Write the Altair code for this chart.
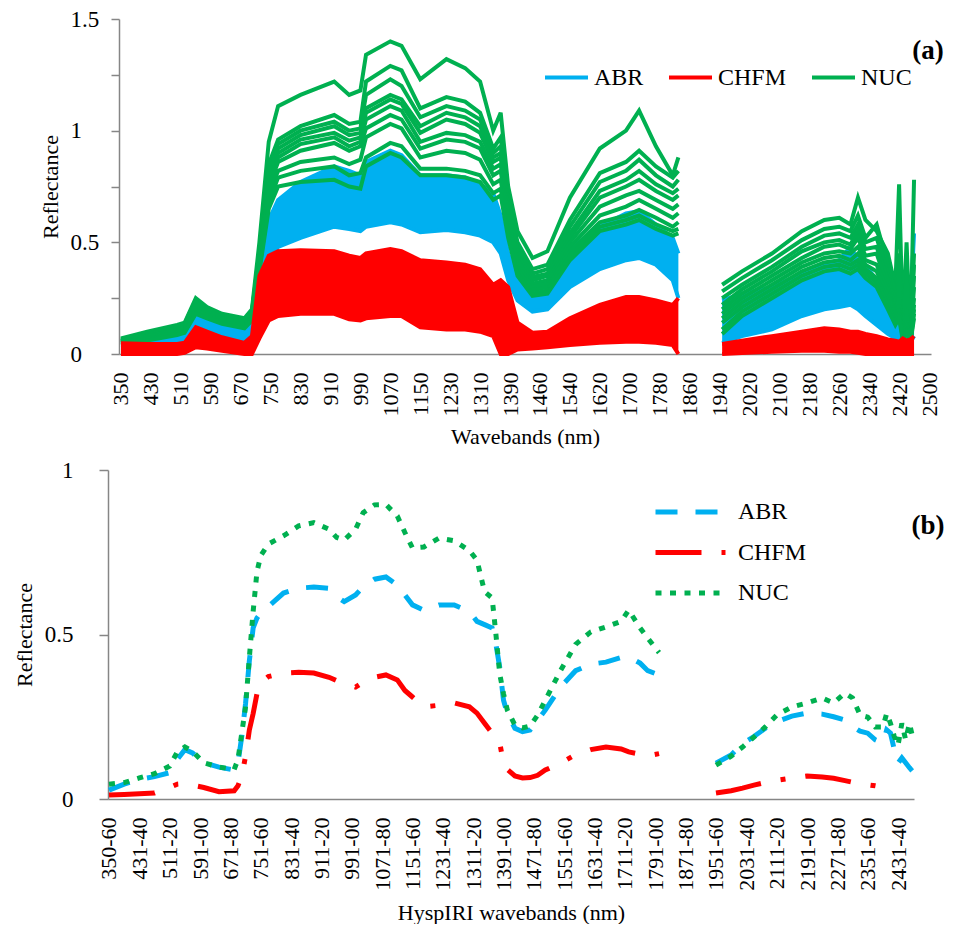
import altair as alt
import pandas as pd

FONT = "Liberation Serif, Times New Roman, Times, serif"
CLASSES = ["ABR", "CHFM", "NUC"]
COLORS = ["#00B0F0", "#FF0000", "#00B050"]
PANEL_LABELS = ["(a)", "(b)"]

# ---------------- Panel (a): individual spectra ----------------
A_LABELS = ["350", "430", "510", "590", "670", "750", "830", "910", "990", "1070",
            "1150", "1230", "1310", "1390", "1460", "1540", "1620", "1700", "1780",
            "1860", "1940", "2020", "2100", "2180", "2260", "2340", "2420", "2500"]

WL_A1 = [350, 420, 500, 520, 550, 580, 620, 680, 700, 720, 745, 770, 830, 920, 960, 990,
         1005, 1070, 1100, 1150, 1220, 1270, 1310, 1345, 1365, 1385, 1400, 1440, 1480,
         1540, 1620, 1690, 1725, 1770, 1815, 1830]
WL_A2 = [1947, 2000, 2080, 2160, 2220, 2260, 2290, 2310, 2330, 2360, 2390, 2410, 2420,
         2430, 2440, 2450, 2460]

# NUC spectra (green)
G1_1 = [0.07, 0.10, 0.13, 0.14, 0.25, 0.21, 0.18, 0.16, 0.20, 0.50,
        0.95, 1.11, 1.16, 1.22, 1.16, 1.18, 1.34, 1.40, 1.38, 1.23, 1.32, 1.28, 1.22, 1.00,
        1.08, 0.75, 0.55, 0.43, 0.46, 0.70, 0.92, 1.00, 1.09, 0.93, 0.80, 0.88]
G2_1 = [0.065, 0.095, 0.125, 0.135, 0.24, 0.20, 0.175, 0.155, 0.19, 0.46,
        0.85, 0.96, 1.02, 1.07, 1.03, 1.04, 1.22, 1.29, 1.27, 1.10, 1.15, 1.13, 1.08, 0.92,
        0.97, 0.70, 0.50, 0.38, 0.40, 0.60, 0.81, 0.86, 0.91, 0.84, 0.79, 0.82]
G3_1 = [0.06, 0.09, 0.12, 0.13, 0.235, 0.195, 0.17, 0.15, 0.185, 0.45,
        0.83, 0.94, 1.00, 1.04, 1.00, 1.01, 1.16, 1.23, 1.20, 1.06, 1.11, 1.09, 1.05, 0.90,
        0.93, 0.68, 0.48, 0.36, 0.38, 0.57, 0.77, 0.82, 0.87, 0.80, 0.75, 0.78]
G4_1 = [0.06, 0.085, 0.115, 0.125, 0.23, 0.19, 0.165, 0.145, 0.18, 0.44,
        0.81, 0.92, 0.98, 1.02, 0.98, 0.99, 1.10, 1.16, 1.14, 1.02, 1.08, 1.06, 1.02, 0.88,
        0.90, 0.66, 0.46, 0.345, 0.36, 0.54, 0.73, 0.78, 0.82, 0.76, 0.72, 0.74]
G5_1 = [0.055, 0.08, 0.11, 0.12, 0.22, 0.185, 0.16, 0.14, 0.175, 0.43,
        0.79, 0.90, 0.96, 0.99, 0.955, 0.97, 1.08, 1.14, 1.12, 0.99, 1.05, 1.03, 0.99, 0.86,
        0.88, 0.64, 0.44, 0.33, 0.35, 0.52, 0.70, 0.75, 0.78, 0.73, 0.69, 0.71]
G6_1 = [0.055, 0.08, 0.105, 0.115, 0.21, 0.18, 0.155, 0.135, 0.17, 0.42,
        0.77, 0.88, 0.94, 0.97, 0.93, 0.95, 1.05, 1.11, 1.09, 0.95, 0.99, 0.98, 0.95, 0.83,
        0.85, 0.62, 0.42, 0.315, 0.33, 0.50, 0.66, 0.71, 0.73, 0.69, 0.65, 0.67]
G7_1 = [0.05, 0.075, 0.10, 0.11, 0.20, 0.175, 0.15, 0.13, 0.165, 0.41,
        0.75, 0.86, 0.91, 0.945, 0.91, 0.93, 1.01, 1.07, 1.05, 0.92, 0.96, 0.95, 0.92, 0.80,
        0.82, 0.60, 0.40, 0.30, 0.315, 0.48, 0.62, 0.66, 0.69, 0.65, 0.61, 0.63]
G8_1 = [0.05, 0.07, 0.095, 0.105, 0.195, 0.17, 0.145, 0.125, 0.16, 0.40,
        0.72, 0.82, 0.86, 0.88, 0.85, 0.87, 0.97, 1.03, 1.01, 0.88, 0.91, 0.90, 0.87, 0.76,
        0.78, 0.57, 0.38, 0.285, 0.30, 0.46, 0.59, 0.62, 0.645, 0.61, 0.57, 0.59]
G9_1 = [0.045, 0.065, 0.09, 0.10, 0.185, 0.165, 0.14, 0.12, 0.155, 0.38,
        0.68, 0.79, 0.82, 0.84, 0.80, 0.81, 0.88, 0.945, 0.93, 0.83, 0.83, 0.82, 0.80, 0.72,
        0.74, 0.54, 0.36, 0.27, 0.285, 0.44, 0.57, 0.60, 0.62, 0.58, 0.55, 0.56]
G10_1 = [0.04, 0.06, 0.085, 0.095, 0.18, 0.16, 0.135, 0.115, 0.15, 0.37,
         0.65, 0.75, 0.77, 0.78, 0.75, 0.74, 0.84, 0.90, 0.88, 0.80, 0.80, 0.79, 0.77, 0.69,
         0.71, 0.52, 0.35, 0.26, 0.27, 0.42, 0.55, 0.58, 0.60, 0.56, 0.53, 0.54]

G1_2 = [0.31, 0.37, 0.45, 0.55, 0.60, 0.61, 0.58, 0.70, 0.60, 0.55, 0.45, 0.30, 0.76, 0.12, 0.50, 0.06, 0.78]
G2_2 = [0.28, 0.34, 0.42, 0.51, 0.56, 0.57, 0.55, 0.62, 0.52, 0.58, 0.40, 0.26, 0.45, 0.20, 0.30, 0.10, 0.45]
G3_2 = [0.25, 0.31, 0.39, 0.48, 0.53, 0.54, 0.52, 0.58, 0.50, 0.52, 0.36, 0.22, 0.38, 0.15, 0.25, 0.08, 0.40]
G4_2 = [0.22, 0.29, 0.37, 0.46, 0.50, 0.51, 0.49, 0.55, 0.47, 0.48, 0.33, 0.20, 0.32, 0.12, 0.35, 0.07, 0.35]
G5_2 = [0.20, 0.27, 0.35, 0.43, 0.48, 0.49, 0.47, 0.52, 0.44, 0.45, 0.30, 0.18, 0.28, 0.10, 0.20, 0.06, 0.30]
G6_2 = [0.18, 0.25, 0.33, 0.41, 0.45, 0.46, 0.45, 0.48, 0.42, 0.40, 0.28, 0.17, 0.25, 0.09, 0.18, 0.06, 0.25]
G7_2 = [0.16, 0.23, 0.31, 0.39, 0.43, 0.44, 0.42, 0.45, 0.40, 0.37, 0.26, 0.16, 0.22, 0.08, 0.15, 0.05, 0.22]
G8_2 = [0.14, 0.21, 0.29, 0.37, 0.41, 0.42, 0.40, 0.42, 0.38, 0.34, 0.24, 0.15, 0.20, 0.07, 0.14, 0.05, 0.20]
G9_2 = [0.11, 0.19, 0.27, 0.35, 0.39, 0.40, 0.38, 0.40, 0.36, 0.32, 0.22, 0.14, 0.18, 0.07, 0.12, 0.05, 0.18]
G10_2 = [0.09, 0.17, 0.25, 0.33, 0.37, 0.38, 0.36, 0.38, 0.34, 0.30, 0.20, 0.13, 0.16, 0.06, 0.10, 0.05, 0.16]

GREEN_1 = [G1_1, G2_1, G3_1, G4_1, G5_1, G6_1, G7_1, G8_1, G9_1, G10_1]
GREEN_2 = [G1_2, G2_2, G3_2, G4_2, G5_2, G6_2, G7_2, G8_2, G9_2, G10_2]

# ABR spectra (blue): upper and lower envelope of the bundle
B_HI1 = [0.06, 0.08, 0.11, 0.12, 0.18, 0.15, 0.12, 0.11, 0.14, 0.38, 0.60, 0.69, 0.77, 0.84,
         0.82, 0.80, 0.86, 0.91, 0.89, 0.80, 0.80, 0.79, 0.76, 0.72, 0.62, 0.45, 0.33, 0.30,
         0.33, 0.47, 0.57, 0.63, 0.64, 0.58, 0.52, 0.45]
B_LO1 = [0.03, 0.035, 0.045, 0.05, 0.08, 0.07, 0.06, 0.05, 0.06, 0.22, 0.40, 0.48, 0.52, 0.57,
         0.56, 0.55, 0.57, 0.59, 0.58, 0.545, 0.555, 0.545, 0.53, 0.50, 0.45, 0.33, 0.24, 0.19,
         0.20, 0.30, 0.38, 0.42, 0.43, 0.40, 0.33, 0.25]
B_HI2 = [0.24, 0.27, 0.30, 0.36, 0.40, 0.42, 0.48, 0.42, 0.40, 0.33, 0.28, 0.25, 0.22, 0.20, 0.30, 0.20, 0.54]
B_LO2 = [0.05, 0.08, 0.11, 0.17, 0.20, 0.21, 0.22, 0.20, 0.17, 0.13, 0.09, 0.07, 0.06, 0.05, 0.06, 0.05, 0.08]

# CHFM spectra (red): upper and lower envelope of the bundle
R_HI1 = [0.048, 0.045, 0.045, 0.05, 0.12, 0.10, 0.075, 0.05, 0.08, 0.35, 0.44, 0.46, 0.465, 0.46,
         0.44, 0.43, 0.45, 0.47, 0.46, 0.42, 0.41, 0.40, 0.38, 0.31, 0.33, 0.30, 0.14, 0.095,
         0.10, 0.16, 0.22, 0.255, 0.255, 0.24, 0.22, 0.25]
R_LO1 = [0.0, 0.0, 0.0, 0.005, 0.03, 0.025, 0.015, 0.0, 0.0, 0.07, 0.15, 0.17, 0.18, 0.18,
         0.155, 0.15, 0.16, 0.17, 0.17, 0.12, 0.11, 0.11, 0.10, 0.08, 0.0, 0.0, 0.02, 0.025,
         0.03, 0.04, 0.05, 0.055, 0.055, 0.05, 0.04, 0.0]
R_HI2 = [0.045, 0.06, 0.08, 0.10, 0.115, 0.11, 0.10, 0.10, 0.09, 0.08, 0.065, 0.06, 0.055, 0.07, 0.06, 0.065, 0.08]
R_LO2 = [0.0, 0.005, 0.01, 0.015, 0.015, 0.01, 0.01, 0.005, 0.0, 0.0, 0.0, 0.0, 0.0, 0.0, 0.0, 0.0, 0.0]

# ---------------- Panel (b): HyspIRI band means ----------------
WL_B1 = [350, 390, 430, 470, 510, 530, 550, 570, 600, 640, 680, 690, 700, 710, 720, 730, 740,
         750, 770, 810, 850, 890, 930, 950, 970, 1000, 1020, 1050, 1080, 1110, 1130, 1150,
         1180, 1220, 1260, 1300, 1320, 1340, 1360, 1370, 1380, 1390, 1400, 1420, 1440, 1460,
         1480, 1500, 1540, 1580, 1620, 1660, 1700, 1720, 1750, 1770, 1800]
WL_B2 = [1950, 1990, 2020, 2050, 2080, 2110, 2150, 2190, 2230, 2260, 2290, 2310, 2330, 2350,
         2370, 2390, 2400, 2410, 2420, 2430, 2440, 2450, 2460, 2470]

ABR_B1 = [0.027, 0.045, 0.06, 0.068, 0.08, 0.12, 0.15, 0.14, 0.11, 0.097, 0.088, 0.11, 0.19,
          0.29, 0.42, 0.52, 0.55, 0.565, 0.585, 0.626, 0.641, 0.644, 0.64, 0.615, 0.60, 0.62,
          0.645, 0.668, 0.675, 0.65, 0.62, 0.59, 0.574, 0.59, 0.59, 0.57, 0.54, 0.53, 0.52,
          0.47, 0.40, 0.30, 0.26, 0.215, 0.205, 0.21, 0.24, 0.27, 0.34, 0.39, 0.41, 0.416,
          0.43, 0.432, 0.413, 0.39, 0.377]
ABR_B2 = [0.109, 0.134, 0.168, 0.19, 0.215, 0.235, 0.252, 0.261, 0.258, 0.25, 0.24, 0.22,
          0.206, 0.20, 0.18, 0.17, 0.21, 0.20, 0.15, 0.109, 0.125, 0.11, 0.095, 0.082]
CHFM_B1 = [0.012, 0.014, 0.016, 0.018, 0.035, 0.045, 0.047, 0.042, 0.035, 0.022, 0.025, 0.04,
           0.07, 0.13, 0.21, 0.26, 0.32, 0.353, 0.372, 0.383, 0.385, 0.383, 0.37, 0.36, 0.35,
           0.34, 0.355, 0.37, 0.377, 0.362, 0.33, 0.31, 0.28, 0.285, 0.292, 0.28, 0.261, 0.23,
           0.20, 0.185, 0.17, 0.11, 0.09, 0.07, 0.064, 0.065, 0.072, 0.088, 0.109, 0.135,
           0.15, 0.158, 0.152, 0.143, 0.136, 0.131, 0.138]
CHFM_B2 = [0.018, 0.025, 0.033, 0.042, 0.05, 0.057, 0.064, 0.07, 0.067, 0.063, 0.056, 0.051,
           0.047, 0.043, 0.04, 0.036, 0.034, 0.033, None, None, None, None, None, None]
NUC_B1 = [0.045, 0.05, 0.064, 0.077, 0.10, 0.143, 0.158, 0.145, 0.11, 0.097, 0.09, 0.12, 0.20,
          0.28, 0.43, 0.57, 0.69, 0.74, 0.775, 0.80, 0.83, 0.84, 0.82, 0.795, 0.787, 0.82,
          0.87, 0.894, 0.895, 0.86, 0.81, 0.763, 0.766, 0.793, 0.785, 0.755, 0.726, 0.63,
          0.611, 0.50, 0.38, 0.32, 0.27, 0.225, 0.216, 0.222, 0.255, 0.30, 0.39, 0.47, 0.508,
          0.523, 0.54, 0.574, 0.52, 0.489, 0.445]
NUC_B2 = [0.103, 0.13, 0.158, 0.188, 0.219, 0.255, 0.28, 0.292, 0.307, 0.292, 0.322, 0.307,
          0.255, 0.249, 0.219, 0.219, 0.26, 0.23, 0.19, 0.164, 0.23, 0.18, 0.23, 0.18]

B_LABELS = ["350-60", "431-40", "511-20", "591-00", "671-80", "751-60", "831-40", "911-20",
            "991-00", "1071-80", "1151-60", "1231-40", "1311-20", "1391-00", "1471-80",
            "1551-60", "1631-40", "1711-20", "1791-00", "1871-80", "1951-60", "2031-40",
            "2111-20", "2191-00", "2271-80", "2351-60", "2431-40"]

# ---------------- build tables ----------------
line_rows = []
def add_line(cls, name, wls, vals):
    for w, v in zip(wls, vals):
        if v is not None:
            line_rows.append({"wl": w, "v": v, "cls": cls, "line": name})

area_rows = []
def add_area(cls, name, wls, his, los):
    for w, h, l in zip(wls, his, los):
        area_rows.append({"wl": w, "hi": h, "lo": l, "cls": cls, "seg": name})

for i, (s1, s2) in enumerate(zip(GREEN_1, GREEN_2)):
    add_line("NUC", f"G{i}_1", WL_A1, s1)
    add_line("NUC", f"G{i}_2", WL_A2, s2)
add_line("ABR", "Bhi_1", WL_A1, B_HI1)
add_line("ABR", "Blo_1", WL_A1, B_LO1)
add_line("ABR", "Bhi_2", WL_A2, B_HI2)
add_line("ABR", "Blo_2", WL_A2, B_LO2)
add_line("CHFM", "Rhi_1", WL_A1, R_HI1)
add_line("CHFM", "Rlo_1", WL_A1, R_LO1)
add_line("CHFM", "Rhi_2", WL_A2, R_HI2)
add_line("CHFM", "Rlo_2", WL_A2, R_LO2)
add_area("ABR", "B1", WL_A1, B_HI1, B_LO1)
add_area("ABR", "B2", WL_A2, B_HI2, B_LO2)
add_area("CHFM", "R1", WL_A1, R_HI1, R_LO1)
add_area("CHFM", "R2", WL_A2, R_HI2, R_LO2)

dfl = pd.DataFrame(line_rows)
dfa = pd.DataFrame(area_rows)

b_rows = []
for cls, s1, s2 in [("ABR", ABR_B1, ABR_B2), ("CHFM", CHFM_B1, CHFM_B2), ("NUC", NUC_B1, NUC_B2)]:
    for seg, wls, vals in [("1", WL_B1, s1), ("2", WL_B2, s2)]:
        for w, v in zip(wls, vals):
            if v is not None:
                b_rows.append({"wl": w, "v": v, "cls": cls, "seg": cls + seg})
dfb = pd.DataFrame(b_rows)

# ---------------- shared styling ----------------
GRAY = "#868686"
color_scale = alt.Scale(domain=CLASSES, range=COLORS)
idx_expr = "datum.wl <= 1390 ? datum.wl - 350 : datum.wl - 340"

a_label_expr = "[" + ",".join(f"'{s}'" for s in A_LABELS) + "][round(datum.value / 80)]"
b_label_expr = "[" + ",".join(f"'{s}'" for s in B_LABELS) + "][round((datum.value - 350) / 80)]"

xa_axis = alt.Axis(values=list(range(0, 2161, 80)), labelExpr=a_label_expr, labelAngle=270,
                   ticks=False, tickSize=0, labelPadding=18, labelFontSize=22,
                   labelFont=FONT, titleFont=FONT, labelColor="black", titleColor="black",
                   labelFlush=False, labelOverlap=False, labelBound=False,
                   title="Wavebands (nm)", titleFontSize=22, titlePadding=10,
                   titleFontWeight="normal", domainColor=GRAY, domainWidth=1.5)
xa_scale = alt.Scale(domain=[-5.3, 2165.3], range=[11, 823], nice=False, zero=False)
ya_axis = alt.Axis(values=[0, 0.25, 0.5, 0.75, 1, 1.25, 1.5], format="~g",
                   labelExpr="(datum.value * 2) % 1 == 0 ? datum.label : ''",
                   offset=-11, tickSize=8, labelAlign="left", labelPadding=41,
                   labelFont=FONT, titleFont=FONT, labelColor="black", titleColor="black",
                   labelFontSize=23, title="Reflectance", titleFontSize=22, titlePadding=8,
                   titleFontWeight="normal", domainColor=GRAY, domainWidth=1.5,
                   tickColor=GRAY, tickWidth=1.5)
ya_scale = alt.Scale(domain=[0, 1.5], nice=False)

legend_a = alt.Legend(title=None, orient="none", legendX=435, legendY=35,
                      direction="horizontal", symbolType="stroke", symbolSize=1849,
                      symbolStrokeWidth=4, labelFontSize=24, labelFont=FONT,
                      labelColor="black", labelOffset=4, columnPadding=17, padding=0,
                      gridAlign="none")

X_A = alt.X("idx:Q", scale=xa_scale, axis=xa_axis)
COLOR_A = alt.Color("cls:N", scale=color_scale, legend=legend_a)

base_l = alt.Chart(dfl).transform_calculate(idx=idx_expr)
base_a = alt.Chart(dfa).transform_calculate(idx=idx_expr)

blue_area = base_a.transform_filter("datum.cls == 'ABR'").mark_area(
    color=COLORS[0], opacity=1).encode(
    x=X_A, y=alt.Y("hi:Q", scale=ya_scale, axis=ya_axis), y2="lo:Q", detail="seg:N")
blue_lines = base_l.transform_filter("datum.cls == 'ABR'").mark_line(strokeWidth=4).encode(
    x=X_A, y=alt.Y("v:Q", scale=ya_scale, axis=ya_axis), color=COLOR_A, detail="line:N")
green_lines = base_l.transform_filter("datum.cls == 'NUC'").mark_line(strokeWidth=4).encode(
    x=X_A, y=alt.Y("v:Q", scale=ya_scale, axis=ya_axis), color=COLOR_A, detail="line:N")
red_area = base_a.transform_filter("datum.cls == 'CHFM'").mark_area(
    color=COLORS[1], opacity=1).encode(
    x=X_A, y=alt.Y("hi:Q", scale=ya_scale, axis=ya_axis), y2="lo:Q", detail="seg:N")
red_lines = base_l.transform_filter("datum.cls == 'CHFM'").mark_line(strokeWidth=4).encode(
    x=X_A, y=alt.Y("v:Q", scale=ya_scale, axis=ya_axis), color=COLOR_A, detail="line:N")
tag_a = alt.Chart(pd.DataFrame({"t": [PANEL_LABELS[0]]})).mark_text(
    font=FONT, fontSize=27, fontWeight="bold", align="center", baseline="middle",
    color="black").encode(x=alt.value(820), y=alt.value(32), text="t:N")

panel_a = alt.layer(blue_area, blue_lines, green_lines, red_area, red_lines, tag_a).properties(
    width=823, height=335)

# ---------------- panel (b) ----------------
xb_axis = alt.Axis(values=list(range(350, 2431, 80)), labelExpr=b_label_expr, labelAngle=270,
                   ticks=False, tickSize=0, labelPadding=18, labelFontSize=22,
                   labelFont=FONT, titleFont=FONT, labelColor="black", titleColor="black",
                   labelFlush=False, labelOverlap=False, labelBound=False,
                   title="HyspIRI wavebands (nm)", titleFontSize=22, titlePadding=12,
                   titleFontWeight="normal", domainColor=GRAY, domainWidth=1.5)
yb_axis = alt.Axis(values=[0, 0.5, 1], format="~g", tickSize=9, labelAlign="right",
                   labelPadding=26, labelFontSize=23, title="Reflectance", titleFontSize=22,
                   labelFont=FONT, titleFont=FONT, labelColor="black", titleColor="black",
                   titlePadding=8, titleFontWeight="normal", domainColor=GRAY,
                   domainWidth=1.5, tickColor=GRAY, tickWidth=1.5)
legend_b = alt.Legend(title=None, orient="none", legendX=545, legendY=30,
                      direction="vertical", symbolType="stroke", symbolSize=4900,
                      symbolStrokeWidth=5, labelFontSize=24, labelFont=FONT,
                      labelColor="black", labelOffset=10, rowPadding=16.5, padding=0,
                      clipHeight=24)
dash_scale = alt.Scale(domain=CLASSES, range=[[22, 18], [46, 20, 5, 20], [6, 8.5]])

lines_b = alt.Chart(dfb).mark_line(strokeWidth=5, strokeCap="butt").encode(
    x=alt.X("wl:Q", scale=alt.Scale(domain=[347.4, 2472], nice=False, zero=False), axis=xb_axis),
    y=alt.Y("v:Q", scale=alt.Scale(domain=[0, 1], nice=False), axis=yb_axis),
    color=alt.Color("cls:N", scale=color_scale, legend=legend_b),
    strokeDash=alt.StrokeDash("cls:N", scale=dash_scale, legend=legend_b),
    detail="seg:N")
tag_b = alt.Chart(pd.DataFrame({"t": [PANEL_LABELS[1]]})).mark_text(
    font=FONT, fontSize=27, fontWeight="bold", align="center", baseline="middle",
    color="black").encode(x=alt.value(820), y=alt.value(56), text="t:N")

panel_b = alt.layer(lines_b, tag_b).properties(width=806, height=329)

chart = alt.vconcat(panel_a, panel_b, spacing=12).resolve_scale(
    color="independent", x="independent", y="independent", strokeDash="independent"
).resolve_legend(color="independent", strokeDash="independent").properties(
    padding={"left": 5, "top": 0, "right": 0, "bottom": 0}
).configure_view(stroke=None).configure_axis(
    labelFont=FONT, titleFont=FONT, labelColor="black", titleColor="black",
    grid=False, titleFontWeight="normal"
)

chart.save("out.html", embed_options={"renderer": "svg", "actions": False})
